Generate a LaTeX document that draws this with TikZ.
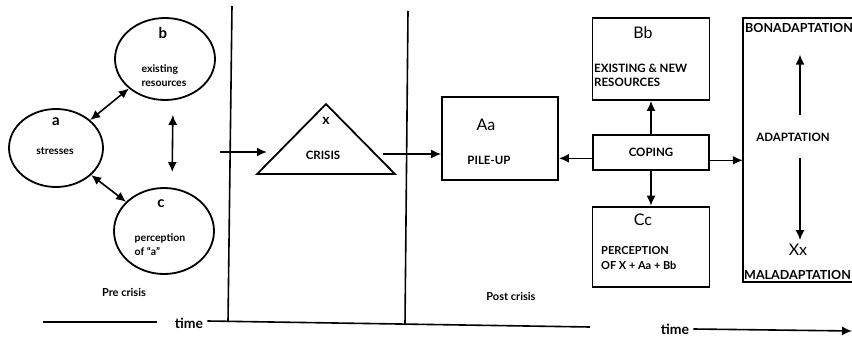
\documentclass[tikz,border=0pt]{standalone}
\usepackage{fontspec}
\setmainfont{Lato}
\usepackage{tikz}
\usetikzlibrary{shapes,arrows,arrows.meta,positioning}
\tikzstyle{circ} = [ellipse, draw, line width=1.8pt, inner sep=0pt]
\tikzstyle{box} = [rectangle, draw, line width=1.8pt, inner sep=0pt, minimum width=116pt]
\tikzstyle{letter} = [draw=none, fill=none, inner sep=0pt, font=\fontsize{16}{16}\selectfont]
\tikzstyle{cletter} = [draw=none, fill=none, inner sep=0pt, font=\bfseries\fontsize{15}{15}\selectfont]
\tikzstyle{small} = [draw=none, fill=none, inner sep=0pt, font=\bfseries\fontsize{10.5}{14}\selectfont]
\tikzstyle{caps} = [draw=none, fill=none, inner sep=0pt, font=\bfseries\fontsize{11.5}{14}\selectfont]
\tikzstyle{timelbl} = [draw=none, fill=none, inner sep=0pt, font=\bfseries\fontsize{14}{14}\selectfont]
\tikzstyle{tedge}  = [draw, line width=1.6pt, >={Latex[length=10pt,width=9pt]}, ->]
\tikzstyle{dedge}  = [draw, line width=1.6pt, >={Latex[length=10pt,width=9pt]}, <->]
\tikzstyle{divider} = [draw, line width=1.6pt]

\begin{document}
\begin{tikzpicture}[x=1pt, y=-1pt]
\useasboundingbox (0,0) rectangle (852,337);
\clip (0,0) rectangle (852,337);

% pre crisis =============================
\node[circ, minimum width=94pt, minimum height=78pt] (a) at (56,148) {};
\node[circ, minimum width=100pt, minimum height=82pt] (b) at (165,59) {};
\node[circ, minimum width=100pt, minimum height=86pt] (c) at (164,231) {};
\node[cletter] (al) at (56,122) {a};
\node[small] (at) at (55,151) {stresses};
\node[cletter] (bl) at (163,33) {b};
\node[small, align=left] (bt) at (164,76) {existing\\resources};
\node[cletter] (cl) at (161,204) {c};
\node[small, align=left] (ct) at (160,245) {perception\\of ``a''};
\node[small, font=\bfseries\fontsize{11}{12}\selectfont] (pre) at (124,292) {Pre crisis};

% crisis =============================
\node[isosceles triangle, draw, line width=1.8pt, shape border rotate=90,
      isosceles triangle stretches, minimum width=138pt, minimum height=70pt,
      inner sep=0pt, anchor=south] (x) at (326,175) {};
\node[cletter, font=\bfseries\fontsize{14}{14}\selectfont] (xl) at (326,121) {x};
\node[caps] (xt) at (323,155) {CRISIS};
\coordinate (xin0) at (220,152);
\coordinate (xin) at (267,152);
\coordinate (xout) at (383,154);

% post crisis =============================
\node[box, minimum height=83pt] (aa) at (500,138.5) {};
\node[letter] (aal) at (486,125) {Aa};
\node[caps] (aat) at (489,160) {PILE-UP};
\node[box, minimum width=117pt, minimum height=82pt] (bb) at (651,59) {};
\node[letter] (bbl) at (643,33) {Bb};
\node[caps, align=left, anchor=west] (bbt) at (594,75) {EXISTING \& NEW\\RESOURCES};
\node[box, minimum height=35pt, below=33pt of bb] (coping) {};
\node[caps] (copingt) at (coping) {COPING};
\node[box, minimum width=117pt, minimum height=80pt, below=35pt of coping] (cc) {};
\node[letter] (ccl) at (643,220) {Cc};
\node[caps, align=left, anchor=west, font=\bfseries\fontsize{11}{15}\selectfont] (cct) at (601,258) {PERCEPTION\\OF X + Aa + Bb};
\node[small, font=\bfseries\fontsize{11}{12}\selectfont] (post) at (511,296) {Post crisis};

% outcome =============================
\node[rectangle, inner sep=0pt, minimum width=109pt, minimum height=264pt] (out) at (797.5,150) {};
\path[divider, line width=1.8pt] (out.north east) -- (out.north west) -- (out.south west) -- (out.south east);
\node[caps, anchor=north west, font=\bfseries\fontsize{12.5}{14}\selectfont] (bon) at (745,23) {BONADAPTATION};
\node[caps] (adapt) at (793,137) {ADAPTATION};
\node[letter] (xx) at (798,250) {Xx};
\node[caps, anchor=south west, font=\bfseries\fontsize{12.5}{14}\selectfont] (mal) at (744,280) {MALADAPTATION};

% time =============================
\coordinate (t0) at (43,322);
\coordinate (t1) at (157,322);
\node[timelbl] (time1) at (189,323) {time};
\coordinate (t2) at (590,327);
\node[timelbl] (time2) at (675,329) {time};
\coordinate (t3) at (852,331);

% edges =============================
\path[dedge] (a) -- (b);
\path[dedge] (a) -- (c);
\path[dedge, shorten <=14pt, shorten >=15pt] ([xshift=8pt]b.south) -- ([xshift=8pt]c.north);
\path[tedge] (xin0) -- (xin);
\path[tedge] (xout) -- (xout -| aa.west);
\path[tedge] ([yshift=-6pt]coping.west) -- ([yshift=-6pt]coping.west -| aa.east);
\path[tedge] (coping) -- (bb);
\path[tedge] (coping) -- (cc);
\path[tedge] ([yshift=-8pt]coping.east) -- ([yshift=-8pt]coping.east -| out.west);
\path[tedge, shorten <=18pt] ([xshift=7pt]adapt.north) -- ([xshift=7pt, yshift=-22pt]bon.south -| adapt.north);
\path[tedge, shorten <=17pt, shorten >=4pt] ([xshift=7pt]adapt.south) -- ([xshift=7pt]adapt.south |- xx.north);

% frame =============================
\path[divider] (232,6) -- (228,322);
\path[divider] (408,11) -- (405,325);
\path[divider] (t0) -- (t1);
\path[divider] (time1.east) ++(4,-2) -- (t2);
\path[tedge] (time2.east) ++(4,0) -- (t3);

\end{tikzpicture}
\end{document}
